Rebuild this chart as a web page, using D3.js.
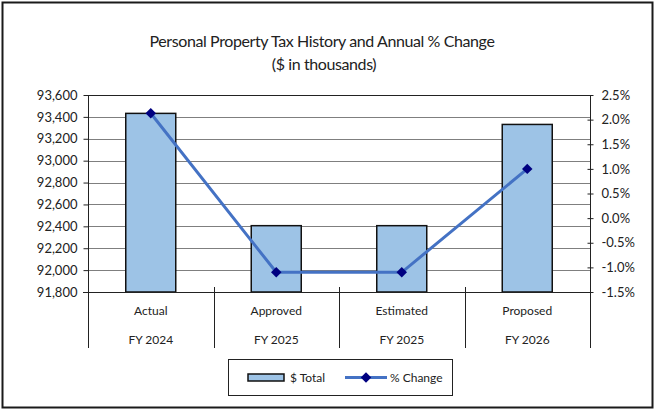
<!DOCTYPE html>
<html>
<head>
<meta charset="utf-8">
<script src="https://cdn.jsdelivr.net/npm/d3@7"></script>
<style>
  body { margin: 0; background: #fff; }
  text { font-family: Lato, "Open Sans", sans-serif; fill: #222; }
</style>
</head>
<body>
<div id="chart"></div>
<script>
// Data
var labels = ["Actual", "Approved", "Estimated", "Proposed"];
var years = ["FY 2024", "FY 2025", "FY 2025", "FY 2026"];
var totals = [93432, 92406, 92406, 93331];
var pctChange = [2.13, -1.1, -1.1, 1.0];
var leftTicks = [91800, 92000, 92200, 92400, 92600, 92800, 93000, 93200, 93400, 93600];
var rightTicks = [-1.5, -1.0, -0.5, 0.0, 0.5, 1.0, 1.5, 2.0, 2.5];

var W = 655, H = 410;
var plot = { left: 88, right: 590, top: 95, bottom: 292 };

var svg = d3.select("#chart").append("svg")
  .attr("width", W)
  .attr("height", H);

// outer frame
svg.append("rect")
  .attr("x", 2.5).attr("y", 2.5)
  .attr("width", W - 5).attr("height", H - 5)
  .attr("fill", "#fff")
  .attr("stroke", "#1a1a1a")
  .attr("stroke-width", 2);

// title
svg.append("text")
  .attr("x", 322).attr("y", 47)
  .attr("text-anchor", "middle")
  .style("font-size", "16px")
  .style("letter-spacing", "-0.4px")
  .text("Personal Property Tax History and Annual % Change");
svg.append("text")
  .attr("x", 324).attr("y", 70)
  .attr("text-anchor", "middle")
  .style("font-size", "16px")
  .style("letter-spacing", "-0.4px")
  .text("($ in thousands)");

var x = d3.scaleBand()
  .domain(labels)
  .range([plot.left, plot.right])
  .paddingInner(0)
  .paddingOuter(0);

var y = d3.scaleLinear()
  .domain([91800, 93600])
  .range([plot.bottom, plot.top]);

var y2 = d3.scaleLinear()
  .domain([-1.5, 2.5])
  .range([plot.bottom, plot.top]);

// gridlines
svg.append("g")
  .selectAll("line")
  .data(leftTicks.slice(1))
  .enter()
  .append("line")
  .attr("x1", plot.left).attr("x2", plot.right)
  .attr("y1", function(d) { return Math.round(y(d)) + 0.5; })
  .attr("y2", function(d) { return Math.round(y(d)) + 0.5; })
  .attr("stroke", function(d) { return d === 93600 ? "#222" : "#7f7f7f"; })
  .attr("stroke-width", 1);

// bars
var barW = 50;
svg.append("g")
  .selectAll("rect")
  .data(totals)
  .enter()
  .append("rect")
  .attr("x", function(d, i) { return x(labels[i]) + x.bandwidth() / 2 - barW / 2; })
  .attr("y", function(d) { return y(d); })
  .attr("width", barW)
  .attr("height", function(d) { return plot.bottom - y(d); })
  .attr("fill", "#9dc3e6")
  .attr("stroke", "#111")
  .attr("stroke-width", 1.5);

// left axis
var leftAxis = d3.axisLeft(y)
  .tickValues(leftTicks)
  .tickSize(5)
  .tickPadding(6)
  .tickFormat(d3.format(","));
var gl = svg.append("g")
  .attr("transform", "translate(" + (plot.left + 0.5) + ",0)")
  .call(leftAxis);
gl.select(".domain").attr("stroke", "#222").attr("d", "M0," + plot.top + "V" + plot.bottom);
gl.selectAll(".tick line").attr("stroke", "#222");
gl.selectAll("text").style("font-size", "13px").style("font-family", "Lato, sans-serif").attr("fill", "#222");

// right axis
var rightAxis = d3.axisRight(y2)
  .tickValues(rightTicks)
  .tickSize(3)
  .tickPadding(8)
  .tickFormat(function(d) { return d.toFixed(1) + "%"; });
var gr = svg.append("g")
  .attr("transform", "translate(" + (plot.right + 0.5) + ",0)")
  .call(rightAxis);
gr.select(".domain").attr("stroke", "#222").attr("d", "M0," + plot.top + "V" + plot.bottom);
gr.selectAll(".tick line").attr("stroke", "#222").attr("x1", -3);
gr.selectAll("text").style("font-size", "13px").style("font-family", "Lato, sans-serif").attr("fill", "#222");

// category axis (two levels)
svg.append("line")
  .attr("x1", plot.left - 5).attr("x2", plot.right)
  .attr("y1", plot.bottom + 0.5).attr("y2", plot.bottom + 0.5)
  .attr("stroke", "#222");
var dividers = labels.map(function(d) { return x(d); }).concat([plot.right]);
svg.append("g")
  .selectAll("line")
  .data(dividers)
  .enter()
  .append("line")
  .attr("x1", function(d) { return Math.round(d) + 0.5; })
  .attr("x2", function(d) { return Math.round(d) + 0.5; })
  .attr("y1", plot.bottom - 5)
  .attr("y2", 348)
  .attr("stroke", "#222");

svg.append("g")
  .selectAll("text")
  .data(labels)
  .enter()
  .append("text")
  .attr("x", function(d) { return x(d) + x.bandwidth() / 2; })
  .attr("y", 315)
  .attr("text-anchor", "middle")
  .style("font-size", "12px")
  .text(function(d) { return d; });
svg.append("g")
  .selectAll("text")
  .data(years)
  .enter()
  .append("text")
  .attr("x", function(d, i) { return x(labels[i]) + x.bandwidth() / 2; })
  .attr("y", 344)
  .attr("text-anchor", "middle")
  .style("font-size", "12px")
  .text(function(d) { return d; });

// % change line
var line = d3.line()
  .x(function(d, i) { return x(labels[i]) + x.bandwidth() / 2; })
  .y(function(d) { return y2(d); });
svg.append("path")
  .datum(pctChange)
  .attr("d", line)
  .attr("fill", "none")
  .attr("stroke", "#4472c4")
  .attr("stroke-width", 3);

var diamond = d3.symbol().type(d3.symbolDiamond2).size(70);
svg.append("g")
  .selectAll("path")
  .data(pctChange)
  .enter()
  .append("path")
  .attr("d", diamond)
  .attr("transform", function(d, i) {
    return "translate(" + (x(labels[i]) + x.bandwidth() / 2) + "," + y2(d) + ")";
  })
  .attr("fill", "#000080");

// legend
var lg = svg.append("g");
lg.append("rect")
  .attr("x", 228.5).attr("y", 359.5)
  .attr("width", 224).attr("height", 36)
  .attr("fill", "#fff")
  .attr("stroke", "#222")
  .attr("stroke-width", 1);
lg.append("rect")
  .attr("x", 248).attr("y", 374)
  .attr("width", 36).attr("height", 7)
  .attr("fill", "#9dc3e6")
  .attr("stroke", "#111")
  .attr("stroke-width", 1.5);
lg.append("text")
  .attr("x", 290).attr("y", 382)
  .style("font-size", "12px")
  .text("$ Total");
lg.append("line")
  .attr("x1", 345).attr("x2", 387)
  .attr("y1", 377.5).attr("y2", 377.5)
  .attr("stroke", "#4472c4")
  .attr("stroke-width", 3);
lg.append("path")
  .attr("d", diamond)
  .attr("transform", "translate(366,377.5)")
  .attr("fill", "#000080");
lg.append("text")
  .attr("x", 390).attr("y", 382)
  .style("font-size", "12px")
  .text("% Change");
</script>
</body>
</html>
